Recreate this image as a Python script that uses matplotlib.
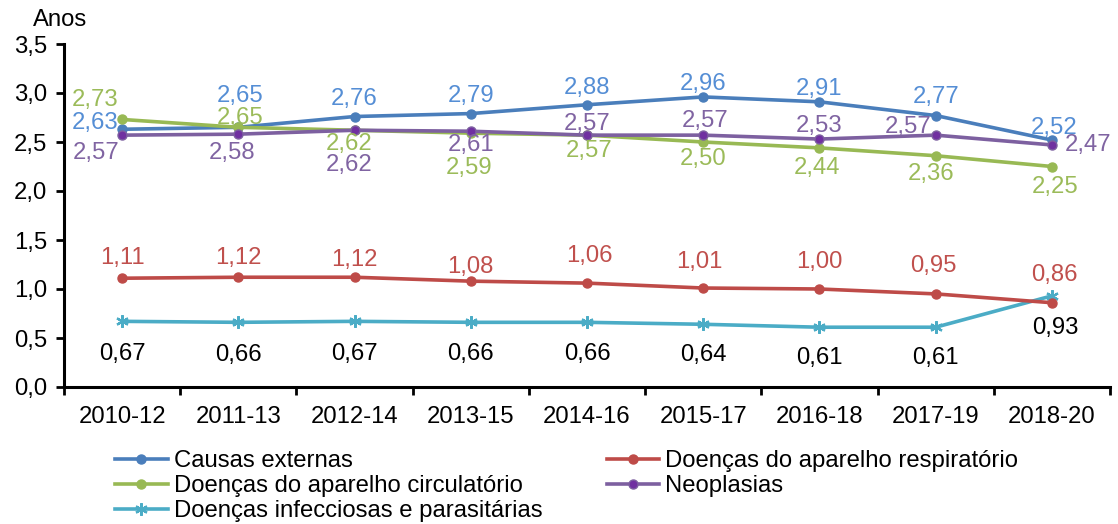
import matplotlib
matplotlib.use('Agg')
import matplotlib.pyplot as plt
from matplotlib.ticker import FuncFormatter, FixedLocator

plt.rcParams['font.family'] = ['Liberation Sans', 'DejaVu Sans']

periodos = ['2010-12', '2011-13', '2012-14', '2013-15', '2014-16',
            '2015-17', '2016-18', '2017-19', '2018-20']

causas_externas = [2.63, 2.65, 2.76, 2.79, 2.88, 2.96, 2.91, 2.77, 2.52]
respiratorio = [1.11, 1.12, 1.12, 1.08, 1.06, 1.01, 1.00, 0.95, 0.86]
circulatorio = [2.73, 2.65, 2.62, 2.59, 2.57, 2.50, 2.44, 2.36, 2.25]
neoplasias = [2.57, 2.58, 2.62, 2.61, 2.57, 2.57, 2.53, 2.57, 2.47]
infecciosas = [0.67, 0.66, 0.67, 0.66, 0.66, 0.64, 0.61, 0.61, 0.93]

# deslocamento dos rótulos (pixels) em relação ao ponto
off_causas = [(-27, 6), (2, 31), (0, 18), (0, 18), (0, 17), (0, 13), (0, 13), (0, 19), (2, 12)]
off_resp = [(0, 20), (0, 19), (0, 17), (0, 14), (2, 27), (-4, 26), (0, 27), (-2, 28), (2, 28)]
off_circ = [(-27, 19), (2, 9), (-5, -14), (-2, -35), (2, -16), (0, -17), (-2, -20), (-5, -18), (3, -20)]
off_neo = [(-26, -18), (-6, -19), (-5, -35), (0, -14), (0, 11), (2, 14), (0, 13), (-28, 8), (36, 0)]
off_inf = [(0, -33), (0, -33), (0, -33), (0, -32), (0, -32), (0, -31), (0, -31), (0, -31), (3, -32)]

fig = plt.figure(figsize=(11.18, 5.24), dpi=100)
ax = fig.add_axes([64 / 1118, 137 / 524, 1046 / 1118, 343 / 524])

x = list(range(len(periodos)))
fs = 17.2

series = [
    ('Causas externas', causas_externas, '#4A7EBB', '#4A7EBB', '#558ED5', 'o', off_causas),
    ('Doenças do aparelho circulatório', circulatorio, '#98B954', '#98B954', '#9BBB59', 'o', off_circ),
    ('Doenças infecciosas e parasitárias', infecciosas, '#4BACC6', '#4BACC6', 'black', (6, 2, 0), off_inf),
    ('Doenças do aparelho respiratório', respiratorio, '#BE4B48', '#BE4B48', '#C0504D', 'o', off_resp),
    ('Neoplasias', neoplasias, '#7D60A0', '#7030A0', '#8064A2', 'o', off_neo),
]

handles = []
for nome, vals, cor, cor_m, cor_txt, mk, offs in series:
    if mk == 'o':
        h, = ax.plot(x, vals, color=cor, lw=2.6, marker='o', ms=6.5,
                     mfc=cor_m, mec=cor, label=nome, zorder=3)
    else:
        h, = ax.plot(x, vals, color=cor, lw=2.6, marker=mk, ms=9,
                     mec=cor, mew=1.6, label=nome, zorder=3)
    handles.append(h)
    for xi, v, (dx, dy) in zip(x, vals, offs):
        ax.annotate(f'{v:.2f}'.replace('.', ','), (xi, v), xytext=(dx, dy),
                    textcoords='offset pixels', ha='center', va='center',
                    fontsize=fs, color=cor_txt, zorder=4)

ax.set_xlim(-0.5, len(periodos) - 0.5)
ax.set_ylim(0, 3.5)
ax.set_yticks([i * 0.5 for i in range(8)])
ax.yaxis.set_major_formatter(FuncFormatter(lambda v, p: f'{v:.1f}'.replace('.', ',')))
ax.set_xticks(x)
ax.set_xticklabels(periodos)
ax.xaxis.set_minor_locator(FixedLocator([i - 0.5 for i in range(len(periodos) + 1)]))
ax.tick_params(axis='x', which='major', length=0, pad=14, labelsize=fs)
ax.tick_params(axis='x', which='minor', length=6, width=2, direction='out')
ax.tick_params(axis='y', length=6, width=2, direction='out', pad=6, labelsize=fs)

for s in ['top', 'right']:
    ax.spines[s].set_visible(False)
for s in ['left', 'bottom']:
    ax.spines[s].set_linewidth(2.2)

fig.text(33 / 1118, 1 - 20 / 524, 'Anos', fontsize=fs, va='center', ha='left')

fig.legend(handles=handles, loc='upper left', bbox_to_anchor=(115 / 1118, 1 - 450 / 524),
           ncol=2, frameon=False, fontsize=fs, borderpad=0, borderaxespad=0,
           handlelength=2.2, handletextpad=0.25, labelspacing=0.13,
           columnspacing=2.7, numpoints=1)

fig.savefig('out.png', dpi=100)
